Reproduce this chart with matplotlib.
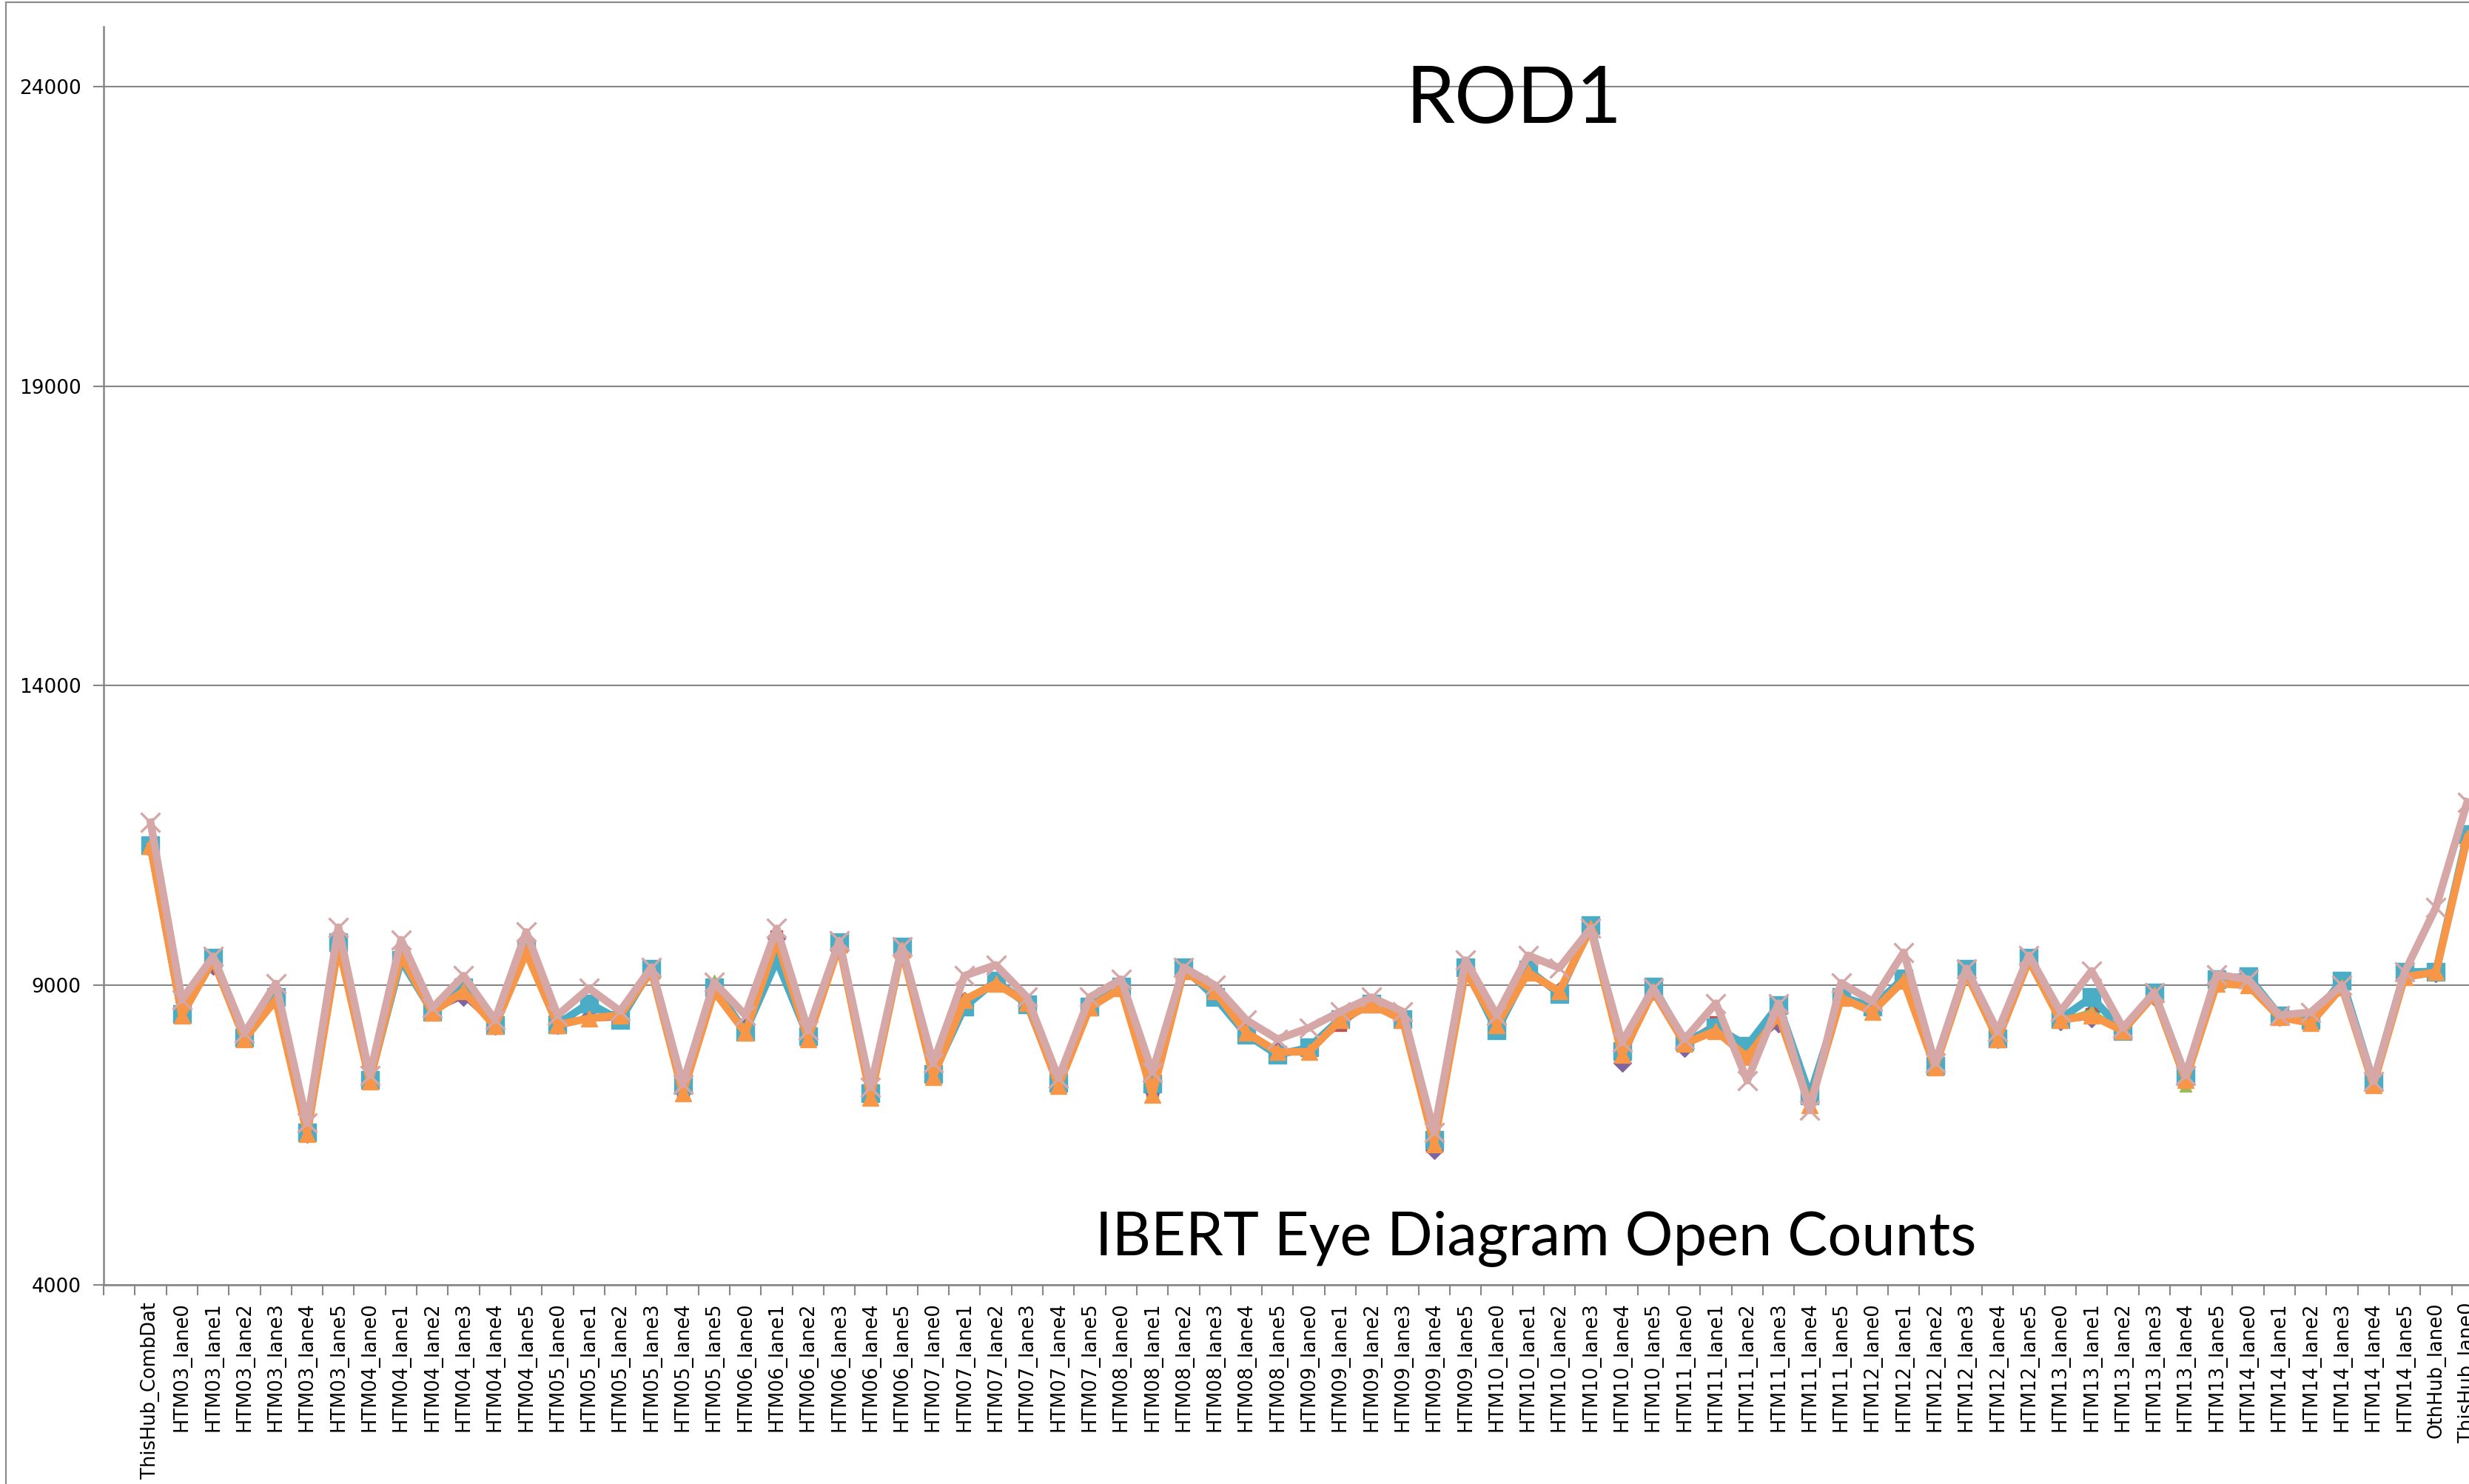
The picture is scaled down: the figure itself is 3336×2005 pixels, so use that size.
import matplotlib
matplotlib.use("Agg")
import matplotlib.pyplot as plt
from matplotlib.patches import Rectangle
from matplotlib.ticker import FixedLocator

# category labels
modules = ["HTM03", "HTM04", "HTM05", "HTM06", "HTM07", "HTM08",
           "HTM09", "HTM10", "HTM11", "HTM12", "HTM13", "HTM14"]
lanes = ["lane0", "lane1", "lane2", "lane3", "lane4", "lane5"]
categories = (["ThisHub_CombDat"]
              + [m + "_" + l for m in modules for l in lanes]
              + ["OthHub_lane0", "ThisHub_lane0"])

# eye open counts per run
run_blue = [11300, 8550, 9400, 8120, 8780, 6540, 9700, 7420, 9480, 8560, 8880, 8330, 9560, 8330, 8480,
            8480, 9250, 7230, 8920, 8300, 9800, 8120, 9700, 7160, 9620, 7480, 8700, 9050, 8700, 7340,
            8640, 8960, 7300, 9250, 8880, 8220, 7900, 7950, 8400, 8700, 8480, 6280, 9260, 8360, 9240,
            8920, 9980, 7760, 8920, 8040, 8250, 7860, 8460, 7180, 8800, 8620, 9100, 7650, 9230, 8120,
            9440, 8430, 8560, 8250, 8850, 7430, 9050, 9060, 8480, 8390, 8990, 7360, 9180, 9200, 11480]
run_red = [11310, 8520, 9380, 8110, 8770, 6530, 9760, 7410, 9520, 8550, 8890, 8330, 9570, 8300, 8420,
           8440, 9240, 7220, 8910, 8260, 9820, 8110, 9690, 7150, 9610, 7480, 8740, 9080, 8720, 7330,
           8640, 8950, 7250, 9240, 8890, 8230, 7880, 7920, 8330, 8690, 8450, 6310, 9250, 8350, 9220,
           8910, 9960, 7820, 8910, 8060, 8380, 7880, 8480, 7170, 8800, 8600, 9090, 7640, 9220, 8110,
           9430, 8430, 8520, 8250, 8850, 7430, 9040, 9030, 8480, 8380, 8980, 7350, 9170, 9210, 11470]
run_green = [11330, 8510, 9410, 8110, 8770, 6530, 9700, 7410, 9560, 8560, 8960, 8330, 9560, 8340, 8470,
             8480, 9240, 7210, 9080, 8250, 9820, 8120, 9700, 7250, 9610, 7560, 8780, 9050, 8720, 7330,
             8640, 8960, 7220, 9240, 8890, 8220, 7900, 7910, 8430, 8690, 8430, 6330, 9250, 8340, 9220,
             8900, 9960, 7850, 8920, 8050, 8360, 7830, 8500, 7120, 8800, 8660, 9090, 7640, 9220, 8110,
             9430, 8430, 8580, 8250, 8850, 7320, 9040, 9010, 8480, 8380, 8980, 7350, 9160, 9210, 11470]
run_purple = [11290, 8560, 9330, 8120, 8740, 6520, 9730, 7410, 9500, 8560, 8800, 8320, 9560, 8340, 8460,
              8470, 9240, 7220, 8900, 8300, 9780, 8120, 9690, 7140, 9600, 7480, 8740, 9060, 8700, 7330,
              8640, 8960, 7240, 9240, 8890, 8220, 7900, 7900, 8410, 8690, 8450, 6250, 9240, 8350, 9220,
              8900, 9960, 7700, 8910, 7950, 8280, 7900, 8360, 7150, 8800, 8640, 9080, 7640, 9220, 8100,
              9430, 8400, 8450, 8240, 8800, 7430, 9040, 9040, 8470, 8380, 8980, 7350, 9160, 9200, 11470]
run_teal = [11340, 8520, 9460, 8120, 8800, 6540, 9720, 7420, 9420, 8560, 8960, 8340, 9600, 8350, 8700,
            8420, 9280, 7330, 8960, 8230, 9420, 8150, 9720, 7200, 9640, 7520, 8640, 9080, 8680, 7370,
            8640, 8980, 7360, 9300, 8800, 8180, 7840, 7960, 8440, 8700, 8440, 6420, 9300, 8250, 9260,
            8860, 10000, 7900, 8980, 8060, 8300, 7990, 8670, 7160, 8810, 8640, 9120, 7660, 9280, 8110,
            9460, 8440, 8800, 8240, 8880, 7480, 9100, 9150, 8500, 8420, 9080, 7390, 9220, 9230, 11520]
run_orange = [11320, 8500, 9420, 8100, 8760, 6520, 9680, 7400, 9500, 8550, 8900, 8320, 9550, 8340, 8450,
              8500, 9240, 7200, 8900, 8210, 9760, 8100, 9680, 7130, 9600, 7470, 8760, 9030, 8710, 7320,
              8630, 8950, 7180, 9240, 8900, 8210, 7890, 7890, 8420, 8680, 8420, 6350, 9240, 8340, 9210,
              8900, 9950, 7840, 8900, 8030, 8240, 7800, 8500, 7000, 8790, 8560, 9080, 7630, 9210, 8100,
              9420, 8420, 8500, 8240, 8840, 7420, 9030, 9000, 8470, 8370, 8970, 7340, 9140, 9220, 11460]
run_pink = [11720, 8760, 9480, 8200, 9030, 6700, 9970, 7500, 9760, 8620, 9160, 8420, 9890, 8500, 8950,
            8570, 9300, 7350, 9050, 8500, 9950, 8250, 9740, 7300, 9640, 7700, 9160, 9340, 8800, 7450,
            8800, 9100, 7550, 9300, 9000, 8420, 8100, 8290, 8560, 8800, 8560, 6550, 9420, 8500, 9500,
            9290, 9950, 8050, 8950, 8100, 8700, 7410, 8700, 6920, 9040, 8730, 9550, 7700, 9280, 8230,
            9500, 8560, 9240, 8290, 8880, 7500, 9180, 9100, 8500, 8550, 9000, 7400, 9220, 10300, 12060]

yticks = [4000, 9000, 14000, 19000, 24000]

W, H = 3336, 2005
fig = plt.figure(figsize=(W / 100, H / 100), dpi=100)

# chart area border (runs off the right and bottom like the screenshot)
fig.patches.append(Rectangle((8 / W, -0.1), 2.0, 1.1 - 3 / H, transform=fig.transFigure,
                             fill=False, edgecolor="#8c8c8c", linewidth=1.6))

x0, x1 = -1.5, 75.5
px_per_cat = 42.3
left = 140 / W
ax = fig.add_axes([left, 1 - 1736 / H, (x1 - x0) * px_per_cat / W, (1736 - 36) / H])

xs = list(range(len(categories)))
gray = "#868686"

ax.plot(xs, run_blue, color="#4F81BD", lw=3, marker="D", ms=11, zorder=3)
ax.plot(xs, run_red, color="#C0504D", lw=3, marker="s", ms=11, zorder=3)
ax.plot(xs, run_green, color="#9BBB59", lw=3, marker="^", ms=11, zorder=3)
ax.plot(xs, run_purple, color="#8064A2", lw=3, marker="D", ms=12, zorder=3)
ax.plot(xs, run_teal, color="#4BACC6", lw=7.5, marker="s", ms=17, zorder=4)
ax.plot(xs, run_orange, color="#F79646", lw=7.5, marker="^", ms=16, zorder=5)
ax.plot(xs, run_pink, color="#D6A7A7", lw=7.5, marker="x", ms=19, mew=2.4, zorder=6)

ax.set_xlim(x0, x1)
ax.set_ylim(4000, 25000)

ax.set_yticks(yticks)
ax.set_yticklabels([str(v) for v in yticks])
ax.yaxis.grid(True, color=gray, linewidth=1.5)
ax.set_axisbelow(True)

ax.set_xticks(xs)
ax.set_xticklabels(categories, rotation=90, va="top", ha="center")
ax.xaxis.set_minor_locator(FixedLocator([i - 0.5 for i in range(-1, len(categories) + 2)]))

ax.tick_params(axis="x", which="major", length=0, pad=17, labelsize=18.5, colors="black")
ax.tick_params(axis="x", which="minor", length=10, width=1.5, color=gray, direction="out")
ax.tick_params(axis="y", which="major", length=10, width=1.5, color=gray, pad=12,
               labelsize=19, labelcolor="black", direction="out")

for side in ["top", "right"]:
    ax.spines[side].set_visible(False)
for side in ["left", "bottom"]:
    ax.spines[side].set_color(gray)
    ax.spines[side].set_linewidth(1.8)

fig.text(2045 / W, 1 - 166 / H, "ROD1", family="Lato", fontsize=76,
         ha="center", va="baseline")
fig.text(2075 / W, 1 - 1696 / H, "IBERT Eye Diagram Open Counts", family="Lato",
         fontsize=58.5, ha="center", va="baseline")

fig.savefig("out.png", dpi=100, facecolor="white")
